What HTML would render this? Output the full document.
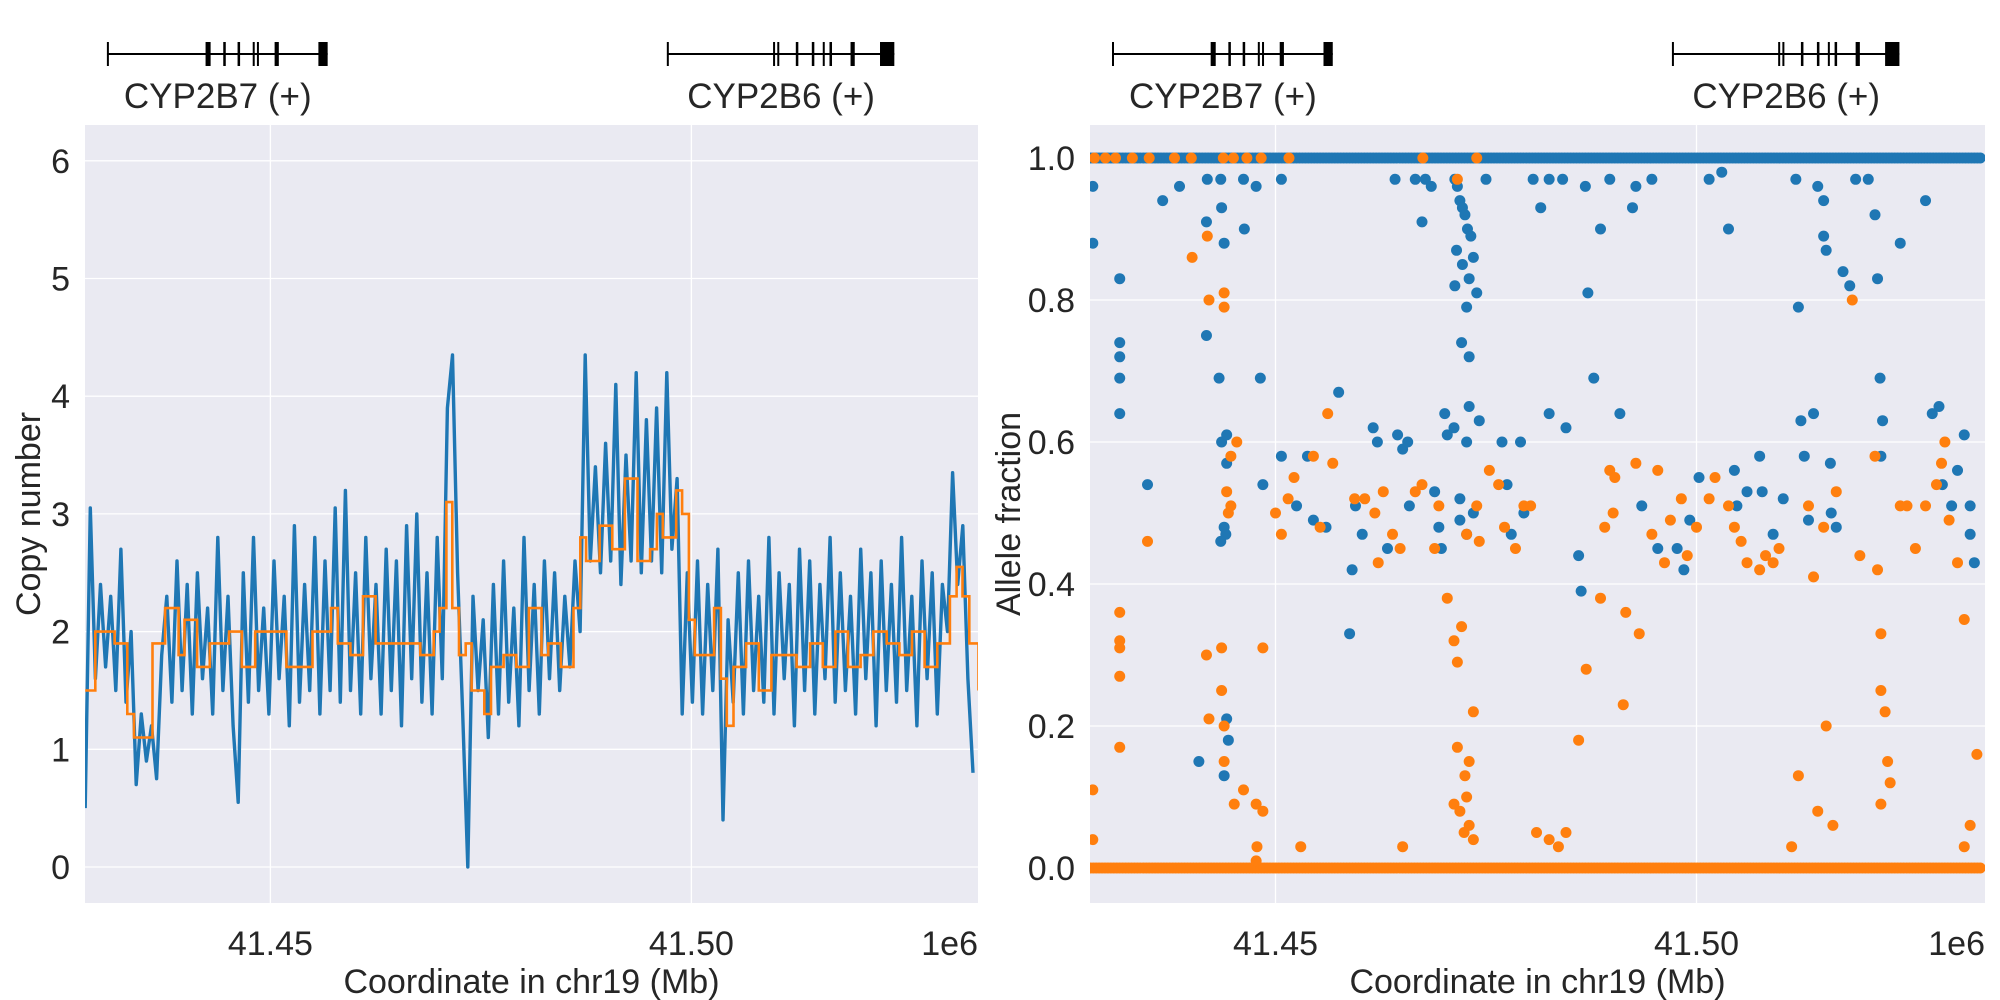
<!DOCTYPE html>
<html><head><meta charset="utf-8"><style>
html,body{margin:0;padding:0;background:#fff;}
svg{display:block;font-family:"Liberation Sans",Arial,sans-serif;}
</style></head><body>
<svg id="chart" width="2000" height="1000" viewBox="0 0 2000 1000"></svg>
<script>
// ---------- DATA ----------
const BASE_MB = 41.428;            // kb offsets below are relative to this coordinate
const cnBinKb = 0.606;             // bin width of raw copy-number series
const cnRaw = [0.5,3.05,1.6,2.4,1.7,2.3,1.5,2.7,1.4,2.0,
0.7,1.3,0.9,1.2,0.75,1.8,2.3,1.4,2.6,1.5,
2.4,1.3,2.5,1.6,2.2,1.3,2.8,1.5,2.3,1.2,
0.55,2.5,1.4,2.8,1.5,2.2,1.3,2.6,1.6,2.3,
1.2,2.9,1.4,2.4,1.5,2.8,1.3,2.6,1.5,3.05,
1.4,3.2,1.5,2.5,1.3,2.8,1.6,2.4,1.3,2.7,
1.5,2.6,1.2,2.9,1.6,3.0,1.4,2.5,1.3,2.8,
1.6,3.9,4.35,2.5,1.3,0.0,2.3,1.5,2.1,1.1,
2.4,1.3,2.6,1.4,2.2,1.2,2.8,1.5,2.4,1.3,
2.6,1.6,2.5,1.5,2.3,1.7,2.6,2.0,4.35,2.6,
3.4,2.5,3.6,2.6,4.1,2.4,3.5,2.6,4.2,2.5,
3.8,2.6,3.9,2.5,4.2,2.7,3.3,1.3,2.5,1.4,
2.6,1.3,2.4,1.5,2.7,0.4,2.1,1.4,2.5,1.3,
2.6,1.5,2.3,1.4,2.8,1.3,2.5,1.6,2.4,1.2,
2.7,1.5,2.6,1.3,2.4,1.6,2.8,1.4,2.5,1.5,
2.3,1.3,2.7,1.6,2.5,1.2,2.6,1.5,2.4,1.4,
2.8,1.5,2.3,1.2,2.6,1.6,2.5,1.3,2.4,2.0,
3.35,2.4,2.9,1.6,0.8];
const cnSmoothKb = [0,1.2,3.5,5.0,5.8,6.8,8.0,9.5,11.1,11.8,13.3,14.8,17.1,18.6,20.2,22.4,23.9,25.5,27.0,29.2,30.0,31.5,33.0,34.5,36.1,38.3,39.8,41.4,42.1,42.9,43.6,44.4,45.2,45.9,47.4,48.2,49.7,51.2,52.7,54.2,55.0,56.5,58.0,58.8,59.5,61.1,62.6,64.1,65.6,67.1,67.9,68.6,70.2,70.9,71.7,72.4,73.9,74.7,75.5,76.2,77.0,78.5,80.0,81.5,83.0,84.5,86.1,87.6,89.1,90.6,92.1,93.6,95.2,96.7,98.2,99.7,101.2,102.7,103.5,104.2,105.0,106.1];
const cnSmooth = [1.5,2.0,1.9,1.3,1.1,1.1,1.9,2.2,1.8,2.1,1.7,1.9,2.0,1.7,2.0,2.0,1.7,1.7,2.0,2.2,1.9,1.8,2.3,1.9,1.9,1.9,1.8,2.0,2.2,3.1,2.2,1.8,1.9,1.5,1.3,1.7,1.8,1.7,2.2,1.8,1.9,1.7,2.2,2.8,2.6,2.9,2.7,3.3,2.6,2.7,3.0,2.8,3.2,3.0,2.1,1.8,1.8,2.2,1.6,1.2,1.7,1.9,1.5,1.8,1.8,1.7,1.9,1.7,2.0,1.7,1.8,2.0,1.9,1.8,2.0,1.7,1.9,2.3,2.55,2.3,1.9,1.5];
const cnTicks = [0,1,2,3,4,5,6];
const afTicks = [0.0,0.2,0.4,0.6,0.8,1.0];
const xTicksMb = [41.45,41.50];
const homRange = [0,106];   // kb span of homozygous calls (AF=1 blue, AF=0 orange)
const blueKb = [0.3,0.3,3.5,3.5,3.5,3.5,3.5,6.8,8.6,10.6,13.8,13.8,13.9,15.5,15.6,15.9,15.3,15.6,16.2,16.2,15.9,16.1,15.5,16.2,16.4,12.9,15.9,18.2,18.3,19.7,20.2,20.5,22.7,22.7,24.5,25.8,26.5,28.0,29.5,30.8,31.1,31.5,32.3,33.6,34.1,35.3,36.2,36.5,37.1,37.7,37.9,38.6,39.4,39.8,40.5,40.9,41.4,41.7,42.1,42.4,43.3,43.6,43.9,44.2,44.5,44.8,45.2,43.5,45.5,44.2,45.0,43.3,45.9,44.7,44.1,45.0,45.0,43.2,44.7,46.2,43.9,45.5,43.9,44.7,47.0,48.9,49.5,50.0,51.1,51.5,52.6,53.5,54.5,54.5,56.1,56.5,58.0,58.3,58.8,59.1,59.8,60.6,61.7,62.9,64.4,64.8,65.5,66.7,67.4,69.7,70.5,71.2,72.3,73.5,75.0,75.8,76.5,76.8,78.0,79.5,79.8,81.1,82.3,83.8,84.1,84.4,84.8,85.3,85.9,86.4,87.1,87.1,87.4,87.9,88.0,88.6,89.4,90.2,90.9,92.4,93.2,93.5,93.8,94.1,93.9,96.2,99.2,100.0,100.8,101.2,102.3,103.0,103.8,104.5,104.5,105.0];
const blueAf = [.96,.88,.83,.74,.72,.69,.64,.54,.94,.96,.91,.75,.97,.97,.93,.88,.69,.60,.61,.57,.48,.47,.46,.21,.18,.15,.13,.97,.90,.96,.69,.54,.97,.58,.51,.58,.49,.48,.67,.33,.42,.51,.47,.62,.60,.45,.97,.61,.59,.60,.51,.97,.91,.97,.96,.53,.48,.45,.64,.61,.97,.96,.94,.93,.92,.90,.89,.87,.86,.85,.83,.82,.81,.79,.74,.72,.65,.62,.60,.63,.52,.50,.49,.47,.97,.60,.54,.47,.60,.50,.97,.93,.97,.64,.97,.62,.44,.39,.96,.81,.69,.90,.97,.64,.93,.96,.51,.97,.45,.45,.42,.49,.55,.97,.98,.90,.56,.51,.53,.58,.53,.47,.52,.97,.79,.63,.58,.49,.64,.96,.94,.89,.87,.57,.50,.48,.84,.82,.97,.97,.92,.83,.69,.63,.58,.88,.94,.64,.65,.54,.51,.56,.61,.51,.47,.43];
const orangeKb = [0.3,0.3,3.5,3.5,3.5,3.5,3.5,6.8,14.1,13.9,12.1,15.9,15.9,16.2,16.7,17.4,16.4,16.7,13.8,14.1,15.6,15.6,15.9,15.9,17.1,18.2,20.5,19.7,19.8,19.7,20.5,22.0,22.7,23.5,24.2,25.0,26.5,27.3,28.2,28.8,31.4,32.6,33.8,34.2,34.8,35.9,36.8,37.1,38.6,39.4,40.9,41.4,42.4,43.2,43.6,44.1,44.5,44.7,45.0,45.5,43.9,45.0,43.2,43.6,45.5,44.4,43.6,44.7,45.9,46.2,47.4,48.5,49.2,50.5,51.5,52.3,53.0,54.5,55.6,56.5,58.0,58.9,60.6,61.1,61.7,62.3,62.1,63.3,63.6,64.8,65.2,66.7,67.4,68.2,68.9,70.2,70.9,72.0,73.5,74.2,75.8,76.5,77.3,78.0,79.5,80.2,81.1,81.8,83.3,84.1,85.3,85.9,86.4,87.1,87.4,88.2,88.6,90.5,91.4,93.2,93.5,93.9,93.9,94.4,94.7,95.0,93.9,96.2,97.0,98.0,99.2,100.5,101.1,101.5,102.0,103.0,103.8,104.5,105.3,103.8,0.5,1.8,3.0,5.0,7.0,10.0,12.0,15.8,17.0,18.6,20.3,23.6,39.5,45.9];
const orangeAf = [.11,.04,.36,.32,.31,.27,.17,.46,.80,.89,.86,.81,.79,.53,.58,.60,.50,.51,.30,.21,.31,.25,.20,.15,.09,.11,.08,.09,.03,.01,.31,.50,.47,.52,.55,.03,.58,.48,.64,.57,.52,.52,.50,.43,.53,.47,.45,.03,.53,.54,.45,.51,.38,.32,.29,.34,.13,.10,.06,.04,.08,.15,.09,.17,.22,.05,.97,.47,.51,.46,.56,.54,.48,.45,.51,.51,.05,.04,.03,.05,.18,.28,.38,.48,.56,.55,.50,.23,.36,.57,.33,.47,.56,.43,.49,.52,.44,.48,.52,.55,.51,.48,.46,.43,.42,.44,.43,.45,.03,.13,.51,.41,.08,.48,.20,.06,.53,.80,.44,.58,.42,.33,.25,.22,.15,.12,.09,.51,.51,.45,.51,.54,.57,.60,.49,.43,.35,.06,.16,.03,1,1,1,1,1,1,1,1,1,1,1,1,1,1];
const genes = [
 {name:"CYP2B7 (+)", startKb:2.7, endKb:28.8, exonKb:[[14.3,14.9],[16.4,16.7],[18.1,18.4],[19.9,20.1],[20.4,20.6],[22.5,23.0],[27.7,28.8]]},
 {name:"CYP2B6 (+)", startKb:69.2, endKb:96.1, exonKb:[[81.7,81.9],[82.2,82.4],[84.4,84.7],[86.3,86.6],[87.6,87.8],[88.4,88.7],[90.9,91.4],[94.4,96.1]]}
];
// ---------- RENDER ----------
const NS="http://www.w3.org/2000/svg";
const svg=document.getElementById('chart');
function mk(tag,attrs,parent){const e=document.createElementNS(NS,tag);for(const k in attrs)e.setAttribute(k,attrs[k]);(parent||svg).appendChild(e);return e;}
const TXT='#262626', BLUE='#1f77b4', ORANGE='#ff7f0e';
const FS=34;
const panels=[{x0:85,x1:978,ref:270.4,ytOff:45},{x0:1090,x1:1985,ref:1275.5,ytOff:70}];
const T=125,B=903;
function xs(p,kb){return p.ref+(BASE_MB+kb/1000-41.45)*8420;}
function xsMb(p,mb){return p.ref+(mb-41.45)*8420;}
function yCN(v){return 867-v*117.7;}
function yAF(v){return 868-v*710;}

panels.forEach((p,pi)=>{
  const g=mk('g',{});
  
  
  const bg=mk('rect',{x:p.x0,y:T,width:p.x1-p.x0,height:B-T,fill:'#eaeaf2'},g);
  
  
  const cp=mk('clipPath',{id:'clip'+pi},g);
  mk('rect',{x:p.x0,y:T,width:p.x1-p.x0,height:B-T},cp);
  const ticks=pi===0?cnTicks:afTicks, yf=pi===0?yCN:yAF;
  ticks.forEach(t=>{
    const y=yf(t);
    const l=mk('line',{x1:p.x0,x2:p.x1,y1:y,y2:y,stroke:'#fff','stroke-width':1.3},g);
    
    
    const tx=mk('text',{x:p.x0-15,y:y+12,'text-anchor':'end','font-size':FS,fill:TXT},g);
    tx.textContent=pi===0?String(t):t.toFixed(1);
    
    
  });
  xTicksMb.forEach(m=>{
    const x=xsMb(p,m);
    const l=mk('line',{x1:x,x2:x,y1:T,y2:B,stroke:'#fff','stroke-width':1.3},g);
    
    
    const tx=mk('text',{x:x,y:955,'text-anchor':'middle','font-size':FS,fill:TXT},g);
    tx.textContent=m.toFixed(2);
    
    
  });
  const off=mk('text',{x:p.x1,y:955,'text-anchor':'end','font-size':FS,fill:TXT},g);
  off.textContent='1e6';
  
  
  const xt=mk('text',{x:(p.x0+p.x1)/2,y:993,'text-anchor':'middle','font-size':FS,fill:TXT},g);
  xt.textContent='Coordinate in chr19 (Mb)';
  
  
  const yt=mk('text',{x:0,y:0,'text-anchor':'middle','font-size':FS,fill:TXT,transform:`translate(${p.x0-p.ytOff},${(T+B)/2}) rotate(-90)`},g);
  yt.textContent=pi===0?'Copy number':'Allele fraction';
  
  
  // gene track
  genes.forEach(gn=>{
    const gg=mk('g',{},g);
    
    
    const a=xs(p,gn.startKb), b=xs(p,gn.endKb), y=54;
    mk('line',{x1:a,x2:b,y1:y,y2:y,stroke:'#000','stroke-width':2},gg);
    mk('line',{x1:a,x2:a,y1:y-12,y2:y+12,stroke:'#000','stroke-width':2},gg);
    gn.exonKb.forEach(e=>{
      const ex1=xs(p,e[0]), ex2=xs(p,e[1]);
      const r=mk('rect',{x:ex1,y:y-12,width:Math.max(2,ex2-ex1),height:24,fill:'#000'},gg);
      
      
    });
    const lb=mk('text',{x:(a+b)/2,y:108,'text-anchor':'middle','font-size':35,fill:TXT},gg);
    lb.textContent=gn.name;
    
    
  });
  const data=mk('g',{'clip-path':`url(#clip${pi})`},g);
  
  
  if(pi===0){
    const rp=cnRaw.map((v,i)=>xs(p,i*cnBinKb).toFixed(1)+','+yCN(v).toFixed(1)).join(' ');
    const l1=mk('polyline',{points:rp,fill:'none',stroke:BLUE,'stroke-width':3.4,'stroke-linejoin':'round'},data);
    
    
    let sp=[];
    cnSmooth.forEach((v,i)=>{
      const x=xs(p,cnSmoothKb[i]), y=yCN(v);
      if(i>0) sp.push(x.toFixed(1)+','+yCN(cnSmooth[i-1]).toFixed(1));
      sp.push(x.toFixed(1)+','+y.toFixed(1));
    });
    const l2=mk('polyline',{points:sp.join(' '),fill:'none',stroke:ORANGE,'stroke-width':2.6},data);
    
    
  } else {
    for(let kb=homRange[0];kb<=homRange[1];kb+=0.35){
      const c1=mk('circle',{cx:xs(p,kb),cy:yAF(1),r:5.5,fill:BLUE},data);
      
      
    }
    for(let kb=homRange[0];kb<=homRange[1];kb+=0.35){
      const c2=mk('circle',{cx:xs(p,kb),cy:yAF(0),r:5.5,fill:ORANGE},data);
      
      
    }
    blueKb.forEach((k,i)=>{
      const c=mk('circle',{cx:xs(p,k),cy:yAF(blueAf[i]),r:5.5,fill:BLUE},data);
      
      
    });
    orangeKb.forEach((k,i)=>{
      const c=mk('circle',{cx:xs(p,k),cy:yAF(orangeAf[i]),r:5.5,fill:ORANGE},data);
      
      
    });
  }
});
</script>
</body></html>
